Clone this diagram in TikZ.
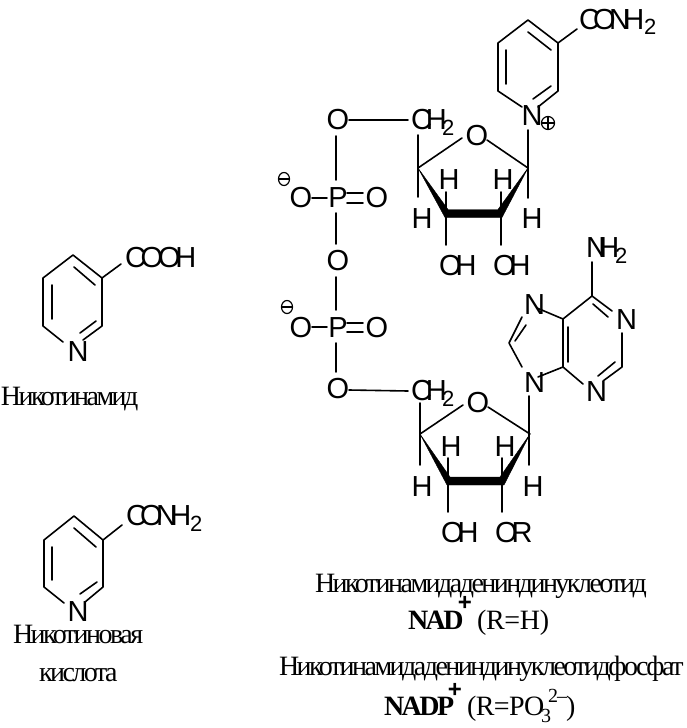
\documentclass[tikz,border=0pt]{standalone}
\usepackage{fontspec}
\usetikzlibrary{shapes.geometric}
\setmainfont{Liberation Serif}
\newfontfamily\chems{Liberation Sans}
\newcommand{\K}[1]{\kern#1pt\relax}
\newcommand{\spc}[1]{\addfontfeature{LetterSpace=#1}}
\tikzset{
  atom/.style={inner sep=0pt,outer sep=0pt,font=\chems\fontsize{29}{29}\selectfont},
  subs/.style={inner sep=0pt,outer sep=0pt,anchor=base west,font=\chems\fontsize{22}{22}\selectfont},
  captxt/.style={inner sep=0pt,outer sep=0pt,anchor=base west,font=\fontsize{28}{28}\selectfont},
  capbold/.style={captxt,font=\bfseries\fontsize{28}{28}\selectfont},
  capsmall/.style={inner sep=0pt,outer sep=0pt,anchor=base west,font=\fontsize{20}{20}\selectfont},
  plusmark/.style={inner sep=0pt,outer sep=0pt,font=\chems\bfseries\fontsize{24}{24}\selectfont},
  bond/.style={line width=1.6pt,line cap=round,line join=round},
  wedgebond/.style={fill=black,draw=black,line width=.4pt,line join=round},
  chargeplus/.style={circle,draw,line width=1.2pt,minimum size=13pt,inner sep=0pt,outer sep=0pt},
  chargeminus/.style={ellipse,draw,line width=1.2pt,minimum width=11pt,minimum height=13pt,inner sep=0pt,outer sep=0pt},
  chargeline/.style={line width=1.2pt},
}
\begin{document}
\begin{tikzpicture}[x=1pt,y=-1pt]
\useasboundingbox (0,0) rectangle (687,728);
% ---------- upper pyridinium
\foreach \n/\p in {a1/{528,20},a2/{498,43},a3/{498,91},a4/{522,107},a5/{558,43},a6/{558,91},a7/{538,107},a8/{506,50},a9/{506,84},a10/{528,32},a11/{551,50},a12/{533,99},a13/{551,86},a14/{577,29},a15/{528,130}}{\coordinate (\n) at (\p);}
\node[atom,anchor=base west] (conh) at (579,29) {C\K{-6.7}O\K{-6.7}N\K{-6.7}H};
\node[subs] (conh2) at (644,34) {2};
\node[atom,anchor=base] (nplus) at (532,125) {N};
\node[chargeplus] (cplus) at (548,123) {};
\draw[chargeline] (cplus.west)--(cplus.east) (cplus.north)--(cplus.south);
\draw[bond] (a4)--(a3)--(a2)--(a1)--(a5)--(a6)--(a7);
\draw[bond] (a8)--(a9) (a10)--(a11) (a12)--(a13) (a5)--(a14);
% ---------- upper ribose
\foreach \n/\p in {b1/{418,168},b2/{528,168},b3/{462,138},b4/{487,140},b5/{418,135},b6/{418,197},b7/{446,192},b8/{446,245},b9/{501,192},b10/{501,245},b11/{528,198},b12/{349,120},b13/{408,120}}{\coordinate (\n) at (\p);}
\node[atom,anchor=base] (o1) at (338,129) {O};
\node[atom,anchor=base west] (ch1) at (411,129) {C\K{-6}H};
\node[subs] (ch1s) at (442,135) {2};
\node[atom,anchor=base] (or1) at (477,145) {O};
\node[atom,anchor=base] (h1) at (449,189) {H};
\node[atom,anchor=base] (h2) at (503,189) {H};
\node[atom,anchor=base] (h3) at (422,228) {H};
\node[atom,anchor=base] (h4) at (532,228) {H};
\node[atom,anchor=base west] (oh1) at (439,275) {O\K{-6}H};
\node[atom,anchor=base west] (oh2) at (493,275) {O\K{-6}H};
\draw[bond] (b12)--(b13) (b5)--(b6) (b1)--(b3) (b4)--(b2) (a15)--(b11) (b7)--(b8) (b9)--(b10);
\fill[wedgebond] (b1)--(445,217.5)--(502,217.5)--(b2)--(498,209.5)--(448,209.5)--cycle;
% ---------- phosphates
\foreach \n/\p in {c1/{336,136},c2/{336,180},c3/{312,198},c4/{327,198},c5/{347,193},c6/{363,193},c7/{347,203},c8/{363,203},c9/{336,213},c10/{336,244},c11/{336,277},c12/{336,310},c13/{312,327},c14/{327,327},c15/{347,323},c16/{363,323},c17/{347,332},c18/{363,332},c19/{336,343},c20/{336,372},c21/{349,390},c22/{408,391}}{\coordinate (\n) at (\p);}
\node[atom,anchor=base] (p1) at (338,207) {P};
\node[atom,anchor=base] (o2) at (301,207) {O};
\node[atom,anchor=base] (o3) at (377,207) {O};
\node[atom,anchor=base] (o4) at (338,270) {O};
\node[atom,anchor=base] (p2) at (338,337) {P};
\node[atom,anchor=base] (o5) at (301,337) {O};
\node[atom,anchor=base] (o6) at (377,337) {O};
\node[atom,anchor=base] (o7) at (338,398) {O};
\node[chargeminus] (m1) at (284,179) {};
\node[chargeminus] (m2) at (287,307) {};
\draw[chargeline] (m1.west)--(m1.east) (m2.west)--(m2.east);
\draw[bond] (c1)--(c2) (c3)--(c4) (c5)--(c6) (c7)--(c8) (c9)--(c10) (c11)--(c12) (c13)--(c14) (c15)--(c16) (c17)--(c18) (c19)--(c20) (c21)--(c22);
% ---------- lower ribose
\foreach \n/\p in {d1/{420,434},d2/{530,434},d3/{463,405},d4/{488,407},d5/{420,403},d6/{420,465},d7/{448,458},d8/{448,512},d9/{502,458},d10/{502,512},d11/{529,396},d12/{529,465}}{\coordinate (\n) at (\p);}
\node[atom,anchor=base west] (ch2) at (411,400) {C\K{-6}H};
\node[subs] (ch2s) at (442,406) {2};
\node[atom,anchor=base] (or2) at (478,412) {O};
\node[atom,anchor=base] (h5) at (451,456) {H};
\node[atom,anchor=base] (h6) at (505,456) {H};
\node[atom,anchor=base] (h7) at (422,496) {H};
\node[atom,anchor=base] (h8) at (533,496) {H};
\node[atom,anchor=base west] (oh3) at (441,542) {O\K{-6}H};
\node[atom,anchor=base west] (orr) at (495,542) {O\K{-6}R};
\draw[bond] (d5)--(d6) (d1)--(d3) (d4)--(d2) (d11)--(d12) (d7)--(d8) (d9)--(d10);
\fill[wedgebond] (d1)--(447,485)--(504,485)--(d2)--(500,477)--(450,477)--cycle;
% ---------- adenine
\foreach \n/\p in {e1/{592,262},e2/{592,296},e3/{612,311},e4/{593,304},e5/{608,317},e6/{622,333},e7/{622,367},e8/{603,381},e9/{615,362},e10/{598,376},e11/{583,384},e12/{563,367},e13/{563,319},e14/{568,327},e15/{568,362},e16/{537,308},e17/{522,317},e18/{509,343},e19/{526,325},e20/{515,341},e21/{522,367},e22/{538,377}}{\coordinate (\n) at (\p);}
\node[atom,anchor=base west] (nh) at (586,257) {N\K{-8.5}H};
\node[subs] (nhs) at (615,263) {2};
\node[atom,anchor=base west] (n1) at (616,329) {N};
\node[atom,anchor=base west] (n3) at (586,401) {N};
\node[atom,anchor=base west] (n7) at (524,314) {N};
\node[atom,anchor=base west] (n9) at (524,392) {N};
\draw[bond] (e1)--(e2)--(e3) (e5)--(e4) (e6)--(e7)--(e8) (e9)--(e10) (e11)--(e12)--(e13)--(e2) (e14)--(e15) (e16)--(e13) (e17)--(e18)--(e21) (e19)--(e20) (e22)--(e12);
% ---------- upper left
\foreach \n/\p in {f1/{73,255},f2/{43,278},f3/{43,326},f4/{63,342},f5/{102,278},f6/{102,326},f7/{83,340},f8/{52,285},f9/{52,319},f10/{74,267},f11/{95,285},f12/{80,333},f13/{96,321},f14/{121,264}}{\coordinate (\n) at (\p);}
\node[atom,anchor=base west] (cooh) at (125,267) {C\K{-5.2}O\K{-5.2}O\K{-5.2}H};
\node[atom,anchor=base] (nleft1) at (78,361) {N};
\draw[bond] (f4)--(f3)--(f2)--(f1)--(f5)--(f6)--(f7) (f8)--(f9) (f10)--(f11) (f12)--(f13) (f5)--(f14);
\node[captxt] (lab1) at (1,405) {\spc{-9}Никотинамид};
% ---------- lower left
\foreach \n/\p in {g1/{74,516},g2/{44,540},g3/{44,587},g4/{64,603},g5/{103,540},g6/{103,587},g7/{85,602},g8/{52,547},g9/{52,580},g10/{74,528},g11/{96,547},g12/{80,594},g13/{97,582},g14/{122,525}}{\coordinate (\n) at (\p);}
\node[atom,anchor=base west] (conh3) at (126,525) {C\K{-6.7}O\K{-6.7}N\K{-6.7}H};
\node[subs] (conh3s) at (190,531) {2};
\node[atom,anchor=base] (nleft2) at (78,621) {N};
\draw[bond] (g4)--(g3)--(g2)--(g1)--(g5)--(g6)--(g7) (g8)--(g9) (g10)--(g11) (g12)--(g13) (g5)--(g14);
\node[captxt] (lab2) at (13,643) {\spc{-9}Никотиновая};
\node[captxt] (lab3) at (39,681) {\spc{-9}кислота};
% ---------- captions
\node[captxt] (lab4) at (315,592) {\spc{-9}Никотинамидадениндинуклеотид};
\node[capbold] (nad) at (408,629) {\spc{-9}NAD};
\node[plusmark] (p3) at (465,603) {+};
\node[captxt] (rh) at (477,629) {\spc{-1}(R=H)};
\node[captxt] (lab5) at (279,675) {\spc{-9}Никотинамидадениндинуклеотидфосфат};
\node[capbold] (nadp) at (384,715) {\spc{-9}NADP};
\node[plusmark] (p4) at (455,690) {+};
\node[captxt] (rp) at (467,715) {\spc{-2}(R=PO};
\node[capsmall] (rp3) at (541,722) {3};
\node[capsmall] (rp2) at (548,702) {2};
\node[capsmall] (rpm) at (557,702) {–};
\node[captxt] (rpc) at (566,715) {)};
\end{tikzpicture}
\end{document}
